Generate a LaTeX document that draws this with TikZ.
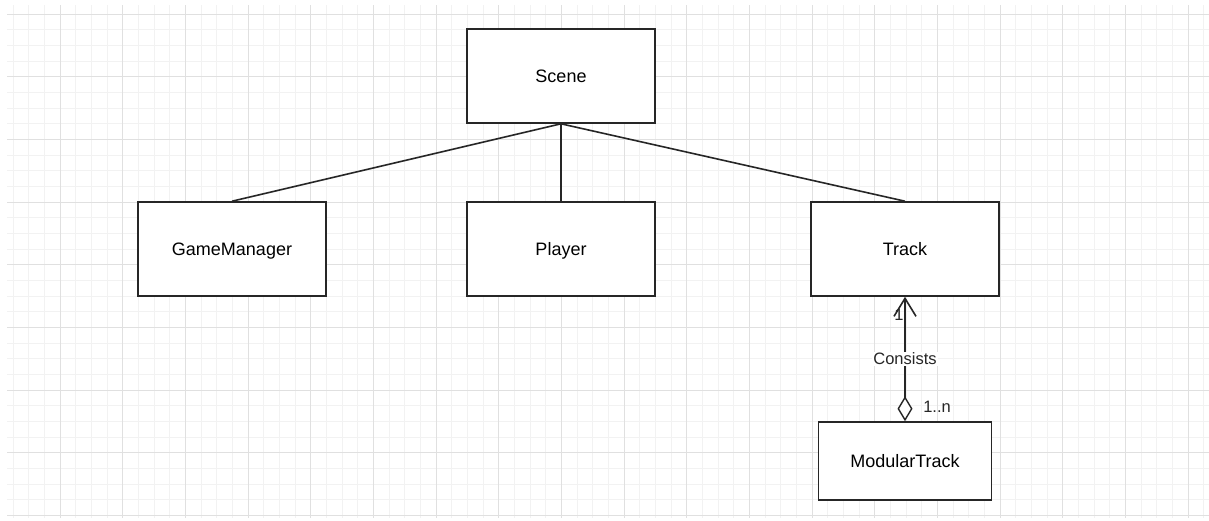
\documentclass[tikz,border=0pt]{standalone}
\usepackage{fontspec}
\setmainfont{Liberation Sans}
\usetikzlibrary{arrows.meta}
\begin{document}
\begin{tikzpicture}[x=1pt,y=-1pt,
  box/.style={draw=black!85, line width=1.6pt, fill=white, minimum width=188pt, minimum height=94pt, inner sep=0pt, text height=13pt, text depth=0pt, font=\fontsize{18}{20}\selectfont},
  conn/.style={line width=1.6pt, draw=black!85},
  lbl/.style={font=\fontsize{16.5}{18}\selectfont, inner sep=1pt, text=black!85},
  minorgrid/.style={draw=black!5, line width=1pt},
  majorgrid/.style={draw=black!12, line width=1pt}]
\useasboundingbox (0,0) rectangle (1209,520);
\fill[white] (0,0) rectangle (1209,520);
% grid
\foreach \i in {0,...,76} {
  \draw[minorgrid] ({13+15.667*\i},5) -- ({13+15.667*\i},518);
}
\foreach \j in {0,...,32} {
  \draw[minorgrid] (7,{14+15.667*\j}) -- (1209,{14+15.667*\j});
}
\foreach \i in {0,...,18} {
  \draw[majorgrid] ({60+62.667*\i},5) -- ({60+62.667*\i},518);
}
\foreach \j in {0,...,8} {
  \draw[majorgrid] (7,{14+62.667*\j}) -- (1209,{14+62.667*\j});
}
% nodes
\node[box] (scene) at (561,76) {Scene};
\node[box] (gm) at (232,249) {GameManager};
\node[box] (player) at (561,249) {Player};
\node[box] (track) at (905,249) {Track};
\node[box, minimum width=173pt, minimum height=78pt] (mt) at (905,461) {ModularTrack};
% connectors
\draw[conn] (scene.south) -- (gm.north);
\draw[conn] (scene.south) -- (player.north);
\draw[conn] (scene.south) -- (track.north);
\draw[conn, arrows={Straight Barb[length=18pt,width=22pt,line width=1.6pt]-Diamond[length=25pt,width=15pt,fill=white,line width=1.4pt]}]
  (track.south) -- node[lbl, fill=white] (consists) {Consists} (mt.north);
\node[lbl] (one) at (899,315) {1};
\node[lbl] (onen) at (937,407) {1..n};
\end{tikzpicture}
\end{document}
